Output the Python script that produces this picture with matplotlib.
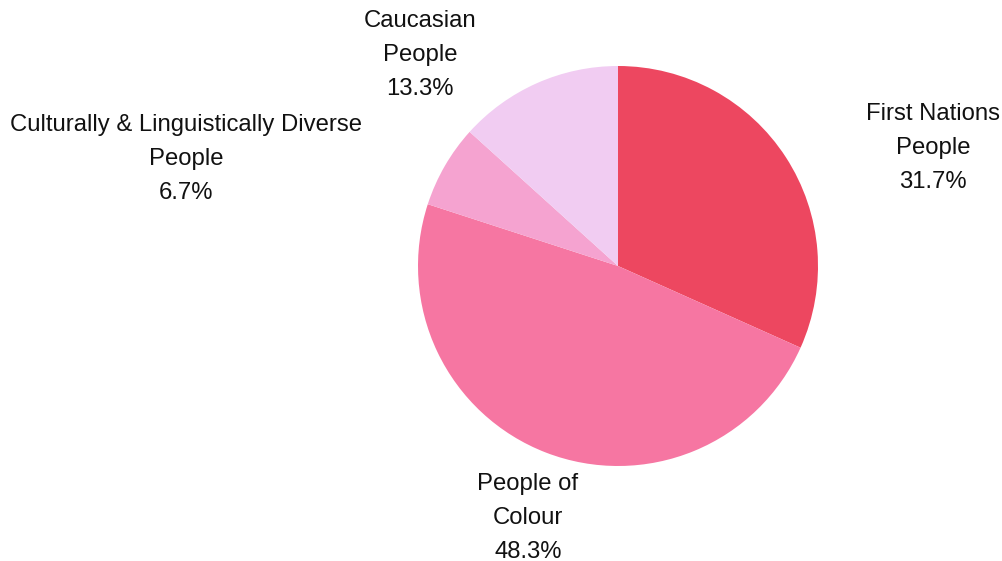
import matplotlib.pyplot as plt

plt.rcParams['font.family'] = ['Liberation Sans', 'DejaVu Sans']

groups = ['First Nations\nPeople', 'People of\nColour',
          'Culturally & Linguistically Diverse\nPeople', 'Caucasian\nPeople']
shares = [31.7, 48.3, 6.7, 13.3]
colours = ['#ED4760', '#F676A2', '#F5A3D0', '#F1CCF2']

# label centres in pixel space (x, y from top)
label_pos = [(933, 148), (528, 518), (186, 159), (420, 55)]

W, H = 1003, 561
fig = plt.figure(figsize=(W / 100, H / 100), dpi=100)
ax = fig.add_axes([0, 0, 1, 1])
ax.set_xlim(0, W)
ax.set_ylim(0, H)
ax.set_aspect('equal')
ax.axis('off')

ax.pie(shares, colors=colours, startangle=90, counterclock=False,
       center=(618, H - 266), radius=200,
       wedgeprops=dict(linewidth=0))

ax.set_xlim(0, W)
ax.set_ylim(0, H)

for name, val, (x, y) in zip(groups, shares, label_pos):
    ax.text(x, H - y, f'{name}\n{val:.1f}%', ha='center', va='center',
            fontsize=17.2, color='#111111', linespacing=1.68)

fig.savefig('out.png', dpi=100, facecolor='white')
